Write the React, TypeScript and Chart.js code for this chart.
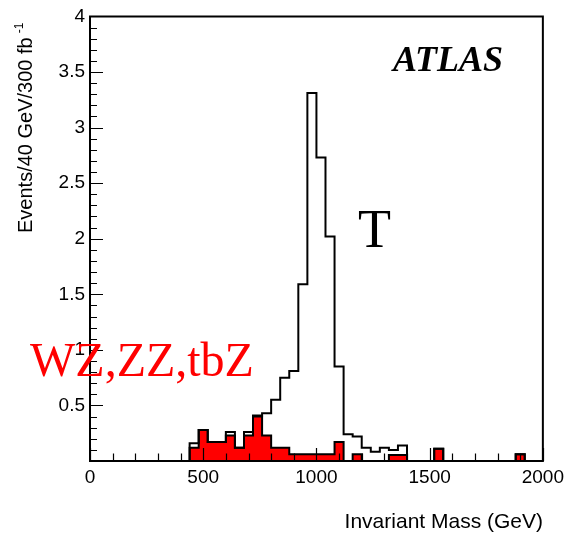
import React, { useEffect, useRef } from 'react';
import { Chart, registerables } from 'chart.js';

Chart.register(...registerables);

// Bin low edges (GeV), 40 GeV bins
const binLowEdges = [440, 480, 520, 560, 600, 640, 680, 720, 760, 800, 840, 880, 920, 960, 1000, 1040, 1080, 1120, 1160, 1200, 1240, 1280, 1320, 1360, 1400, 1440, 1480, 1520, 1560, 1600, 1640, 1680, 1720, 1760, 1800, 1840, 1880, 1920];
const binWidth = 40;

// Background WZ, ZZ, tbZ (red, filled)
const backgroundWZ = [0.12, 0.28, 0.17, 0.17, 0.23, 0.12, 0.23, 0.40, 0.23, 0.12, 0.12, 0.06, 0.06, 0.06, 0.06, 0.06, 0.17, 0, 0.06, 0, 0, 0, 0.055, 0.055, 0, 0, 0, 0.11, 0, 0, 0, 0, 0, 0, 0, 0, 0.06, 0];
// Signal T (stacked on top of background)
const signalT = [0.04, 0, 0, 0, 0.03, 0, 0.03, 0.01, 0.20, 0.43, 0.63, 0.75, 1.53, 3.25, 2.67, 1.96, 0.68, 0.24, 0.16, 0.12, 0.083, 0.12, 0.045, 0.085, 0, 0, 0, 0, 0, 0, 0, 0, 0, 0, 0, 0, 0, 0];

const xMin = 0;
const xMax = 2000;
const xMajorStep = 500;
const xMinorStep = 100;
const yMin = 0;
const yMax = 4;
const yMajorStep = 0.5;
const yMinorStep = 0.1;

const xTitle = 'Invariant Mass (GeV)';
const yTitle = 'Events/40 GeV/300 fb';
const yTitleSup = '-1';
const experimentLabel = 'ATLAS';
const signalLabel = 'T';
const backgroundLabel = 'WZ,ZZ,tbZ';

function histPoints(values: number[]) {
  const pts: { x: number; y: number }[] = [{ x: binLowEdges[0], y: 0 }];
  values.forEach((v, i) => pts.push({ x: binLowEdges[i], y: v }));
  pts.push({ x: binLowEdges[binLowEdges.length - 1] + binWidth, y: 0 });
  return pts;
}

const decorPlugin = {
  id: 'decor',
  afterDraw(chart: any) {
    const ctx = chart.ctx;
    const area = chart.chartArea;
    const xs = chart.scales.x;
    const ys = chart.scales.y;
    ctx.save();
    // frame
    ctx.strokeStyle = '#000';
    ctx.lineWidth = 2;
    ctx.beginPath();
    ctx.rect(area.left, area.top, area.right - area.left, area.bottom - area.top);
    ctx.stroke();
    // ticks
    ctx.lineWidth = 1.2;
    ctx.beginPath();
    for (let v = xMin; v <= xMax + 1e-6; v += xMinorStep) {
      const px = Math.round(xs.getPixelForValue(v)) + 0.5;
      const major = Math.abs(v / xMajorStep - Math.round(v / xMajorStep)) < 1e-6;
      const len = major ? 13 : 7.5;
      ctx.moveTo(px, area.bottom);
      ctx.lineTo(px, area.bottom - len);
    }
    for (let i = 0; i <= Math.round((yMax - yMin) / yMinorStep); i++) {
      const v = yMin + i * yMinorStep;
      const py = Math.round(ys.getPixelForValue(v)) + 0.5;
      const major = i % Math.round(yMajorStep / yMinorStep) === 0;
      const len = major ? 13 : 7;
      ctx.moveTo(area.left, py);
      ctx.lineTo(area.left + len, py);
    }
    ctx.stroke();

    // axis titles
    ctx.fillStyle = '#000';
    ctx.font = '21px "Liberation Sans", Arial, sans-serif';
    ctx.textAlign = 'right';
    ctx.textBaseline = 'alphabetic';
    ctx.fillText(xTitle, 543, 528);

    ctx.save();
    ctx.translate(32, 233);
    ctx.rotate(-Math.PI / 2);
    ctx.textAlign = 'left';
    ctx.font = '20px "Liberation Sans", Arial, sans-serif';
    ctx.fillText(yTitle, 0, 0);
    const w = ctx.measureText(yTitle).width;
    ctx.font = '12px "Liberation Sans", Arial, sans-serif';
    ctx.fillText(yTitleSup, w + 4, -9);
    ctx.restore();

    // labels
    ctx.textAlign = 'left';
    ctx.font = 'italic bold 36px "Liberation Serif", "Times New Roman", serif';
    ctx.fillText(experimentLabel, 393, 71);
    ctx.font = '54px "Liberation Serif", "Times New Roman", serif';
    ctx.fillText(signalLabel, 358, 247);
    ctx.fillStyle = '#ff0000';
    ctx.font = '48px "Liberation Serif", "Times New Roman", serif';
    ctx.fillText(backgroundLabel, 30, 376);
    ctx.restore();
  },
};

export default function App() {
  const ref = useRef<HTMLCanvasElement | null>(null);
  useEffect(() => {
    if (!ref.current) return;
    const total = backgroundWZ.map((b, i) => b + signalT[i]);
    const chart = new Chart(ref.current, {
      type: 'line',
      data: {
        datasets: [
          {
            label: 'T',
            data: histPoints(total),
            stepped: true,
            borderColor: '#000',
            borderWidth: 2,
            pointRadius: 0,
            fill: false,
            order: 0,
          },
          {
            label: 'WZ,ZZ,tbZ',
            data: histPoints(backgroundWZ),
            stepped: true,
            borderColor: '#000',
            borderWidth: 2,
            backgroundColor: '#ff0000',
            pointRadius: 0,
            fill: 'origin',
            order: 1,
          },
        ],
      },
      options: {
        animation: false,
        responsive: true,
        maintainAspectRatio: false,
        layout: { padding: { top: 14, right: 24.5, left: 0, bottom: 0 } },
        plugins: { legend: { display: false }, tooltip: { enabled: false } },
        scales: {
          x: {
            type: 'linear',
            min: xMin,
            max: xMax,
            grid: { display: false, drawTicks: false },
            border: { display: false },
            ticks: {
              stepSize: xMajorStep,
              color: '#000',
              padding: 5,
              maxRotation: 0,
              font: { family: '"Liberation Sans", Arial, sans-serif', size: 19 },
              callback: (v: any) => String(v),
            },
            afterFit: (s: any) => { s.height = 72; },
          },
          y: {
            type: 'linear',
            min: yMin,
            max: yMax,
            grid: { display: false, drawTicks: false },
            border: { display: false },
            ticks: {
              stepSize: yMajorStep,
              color: '#000',
              padding: 5,
              font: { family: '"Liberation Sans", Arial, sans-serif', size: 19 },
              callback: (v: any) => (v === 0 ? '' : String(v)),
            },
            afterFit: (s: any) => { s.width = 90; },
          },
        },
      },
      plugins: [decorPlugin],
    });
    return () => chart.destroy();
  }, []);
  return (
    <div style={{ position: 'absolute', left: 0, top: 0, width: 569, height: 533, background: '#fff' }}>
      <canvas ref={ref} />
    </div>
  );
}
